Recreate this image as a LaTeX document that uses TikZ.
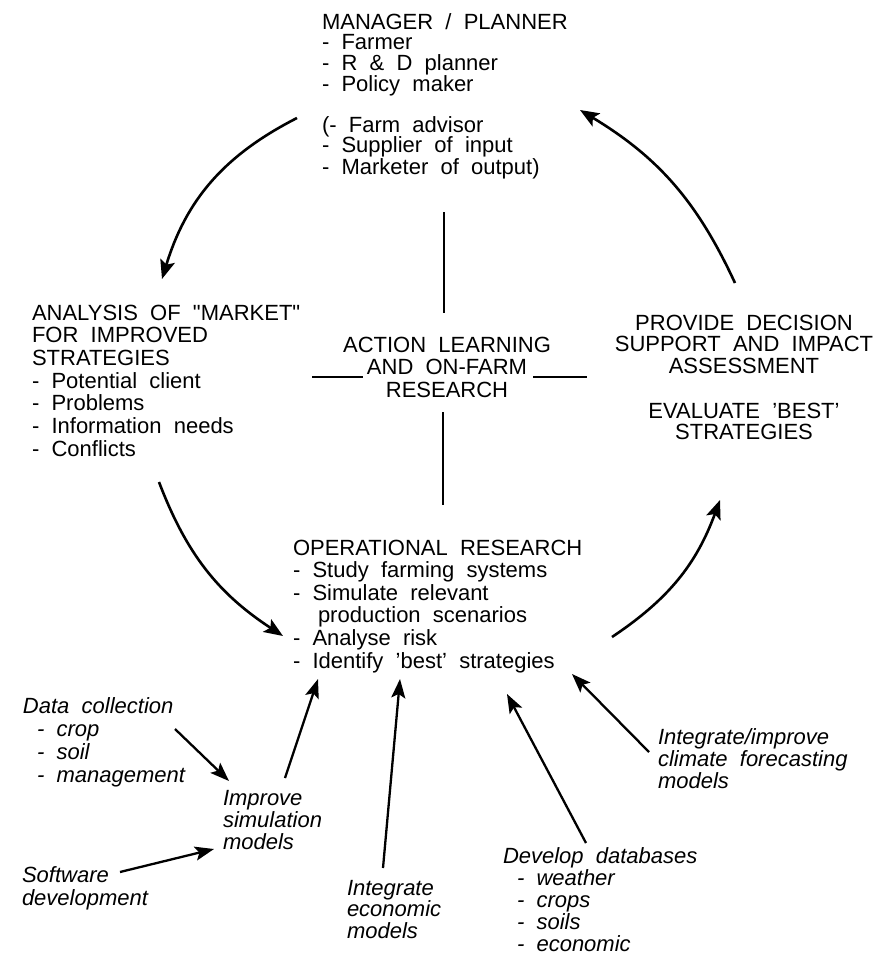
\documentclass[tikz,border=0pt]{standalone}
\usepackage{fontspec}
\setmainfont[WordSpace=2]{Liberation Sans}
\usetikzlibrary{arrows.meta}
\newcommand\lblock[3]{\parbox[t]{#1}{\raggedright\fontsize{22}{#2}\selectfont #3\par}}
\newcommand\cblock[3]{\parbox[t]{#1}{\centering\fontsize{22}{#2}\selectfont #3\par}}
\begin{document}
\begin{tikzpicture}[x=1pt,y=-1pt,
  txt/.style={inner sep=0pt,outer sep=0pt},
  arc/.style={line width=2.6pt,-{Stealth[length=19pt,width=15pt,inset=4pt]}},
  feed/.style={line width=2.3pt,-{Stealth[length=19pt,width=14pt,inset=4pt]}},
  bar/.style={line width=2.2pt}]
\useasboundingbox (0,0) rectangle (888,959);
\fill[white] (0,0) rectangle (888,959);

% text blocks
\node[txt,anchor=base west] (mgr) at (322,29) {\lblock{320pt}{20.5}{MANAGER / PLANNER\\- Farmer\\- R \& D planner\\- Policy maker\\[19pt](- Farm advisor\\- Supplier of input\\- Marketer of output)}};
\node[txt,anchor=base west] (mkt) at (32,320) {\lblock{300pt}{22.7}{ANALYSIS OF \textquotedbl MARKET\textquotedbl\\FOR IMPROVED\\STRATEGIES\\- Potential client\\- Problems\\- Information needs\\- Conflicts}};
\node[txt,anchor=base] (alr) at (447,352) {\cblock{220pt}{22.5}{ACTION LEARNING\\AND ON-FARM\\RESEARCH}};
\node[txt,anchor=base] (dss) at (744,330) {\cblock{300pt}{21.5}{PROVIDE DECISION\\SUPPORT AND IMPACT\\ASSESSMENT\\[23.5pt]EVALUATE 'BEST'\\STRATEGIES}};
\node[txt,anchor=base west] (opr) at (293,555) {\lblock{320pt}{22.6}{OPERATIONAL RESEARCH\\- Study farming systems\\- Simulate relevant\\\hspace*{25pt}production scenarios\\- Analyse risk\\- Identify 'best' strategies}};
\node[txt,anchor=base west] (dat) at (23,713) {\lblock{200pt}{23.3}{\itshape Data collection\\\hspace*{14pt}- crop\\\hspace*{14pt}- soil\\\hspace*{14pt}- management}};
\node[txt,anchor=base west] (imp) at (223,805) {\lblock{150pt}{22}{\itshape Improve\\simulation\\models}};
\node[txt,anchor=base west] (sof) at (22,882) {\lblock{180pt}{23}{\itshape Software\\development}};
\node[txt,anchor=base west] (ieco) at (347,895) {\lblock{150pt}{21.5}{\itshape Integrate\\economic\\models}};
\node[txt,anchor=base west] (dev) at (503,863) {\lblock{250pt}{22}{\itshape Develop databases\\\hspace*{14pt}- weather\\\hspace*{14pt}- crops\\\hspace*{14pt}- soils\\\hspace*{14pt}- economic}};
\node[txt,anchor=base west] (clim) at (658,744) {\lblock{230pt}{22}{\itshape Integrate/improve\\climate forecasting\\models}};

% connector end points
\coordinate (mgr-l) at (297,118);
\coordinate (mkt-t) at (162,279);
\coordinate (dss-t) at (735,283);
\coordinate (mgr-r) at (580,110);
\coordinate (mkt-b) at (159,482);
\coordinate (opr-l) at (283,636);
\coordinate (opr-r) at (612,637);
\coordinate (dss-b) at (720,500);
\coordinate (dat-o) at (175,729);
\coordinate (imp-i1) at (229,781);
\coordinate (sof-o) at (120,872);
\coordinate (imp-i2) at (214,849);
\coordinate (imp-o) at (285,778);
\coordinate (opr-i1) at (318,679);
\coordinate (ieco-o) at (383,868);
\coordinate (opr-i2) at (400,679);
\coordinate (dev-o) at (586,843);
\coordinate (opr-i3) at (507,694);
\coordinate (clim-o) at (649,752);
\coordinate (opr-i4) at (572,674);
\coordinate (alr-t1) at (444,212);
\coordinate (alr-t2) at (444,313);
\coordinate (alr-b1) at (443,412);
\coordinate (alr-b2) at (443,505);
\coordinate (alr-l1) at (312,377);
\coordinate (alr-l2) at (363,377);
\coordinate (alr-r1) at (533,377);
\coordinate (alr-r2) at (587,377);

% cycle arcs
\draw[arc] (mgr-l) to[bend right=23] (mkt-t);
\draw[arc] (mkt-b) to[bend right=18] (opr-l);
\draw[arc] (opr-r) to[bend right=18] (dss-b);
\draw[arc] (dss-t) to[bend right=17] (mgr-r);

% action learning cross
\draw[bar] (alr-t1) -- (alr-t2);
\draw[bar] (alr-b1) -- (alr-b2);
\draw[bar] (alr-l1) -- (alr-l2);
\draw[bar] (alr-r1) -- (alr-r2);

% feeding arrows
\draw[feed] (dat-o) -- (imp-i1);
\draw[feed] (sof-o) -- (imp-i2);
\draw[feed] (imp-o) -- (opr-i1);
\draw[feed] (ieco-o) -- (opr-i2);
\draw[feed] (dev-o) -- (opr-i3);
\draw[feed] (clim-o) -- (opr-i4);
\end{tikzpicture}
\end{document}
